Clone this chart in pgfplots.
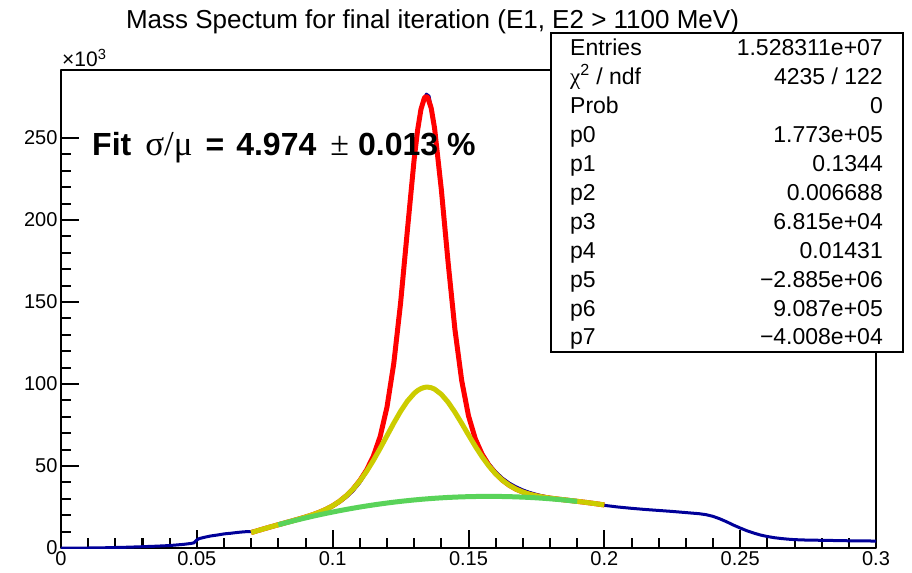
\documentclass[border=0pt]{standalone}
\usepackage{fontspec}
\setmainfont{Liberation Sans}
\newfontfamily\symfont{Liberation Serif}
\usepackage{pgfplots}
\pgfplotsset{compat=1.18}

\definecolor{histblue}{RGB}{0,0,153}
\definecolor{fitred}{RGB}{255,0,0}
\definecolor{fityellow}{RGB}{204,204,0}
\definecolor{fitgreen}{RGB}{89,211,89}

% histogram, counts in units of 10^3
\pgfplotstableread{
x y
0 0
0.005 0
0.01 0
0.015 0.1
0.02 0.3
0.025 0.5
0.03 0.8
0.035 1.1
0.04 1.5
0.045 2.2
0.048 2.8
0.049 3.2
0.05 5.0
0.051 5.8
0.053 6.6
0.055 7.3
0.0575 7.9
0.06 8.6
0.0625 9.0
0.065 9.5
0.0675 9.9
0.07 10.0
0.0725 10.9
0.075 12.0
0.0775 13.1
0.08 14.2
0.0825 15.3
0.085 16.4
0.0875 17.6
0.09 18.8
0.0925 20.1
0.095 21.6
0.0975 23.3
0.1 25.3
0.1025 27.8
0.105 30.9
0.1075 34.8
0.11 39.8
0.1125 46.3
0.115 55.0
0.1175 67.5
0.12 85.5
0.1225 112.3
0.125 149.5
0.1275 194.0
0.13 237.5
0.1325 268.5
0.1345 276.8
0.1355 275.5
0.1375 256.8
0.14 219.3
0.1425 174.8
0.145 134.0
0.1475 102.8
0.15 81.3
0.1525 67.3
0.155 58.0
0.1575 51.4
0.16 46.5
0.1625 42.6
0.165 39.6
0.1675 37.3
0.17 35.4
0.1725 33.9
0.175 32.7
0.1775 31.7
0.18 30.8
0.1825 30.1
0.185 29.5
0.1875 28.9
0.19 28.3
0.1925 27.8
0.195 27.2
0.1975 26.6
0.2 26.0
0.205 25.0
0.21 24.2
0.215 23.5
0.22 22.9
0.225 22.3
0.23 21.6
0.235 20.9
0.2375 20.3
0.24 19.3
0.2425 17.8
0.245 16.0
0.2475 14.0
0.25 12.2
0.2525 10.5
0.255 9.1
0.2575 7.9
0.26 7.0
0.2625 6.3
0.265 5.8
0.2675 5.4
0.27 5.1
0.275 4.8
0.28 4.7
0.285 4.55
0.29 4.4
0.295 4.3
0.3 4.25
}\histo

% total fit
\pgfplotstableread{
x y
0.07 9.395
0.0725 10.642
0.075 11.857
0.0775 13.041
0.08 14.202
0.0825 15.347
0.085 16.491
0.0875 17.660
0.09 18.888
0.0925 20.227
0.095 21.749
0.0975 23.545
0.1 25.731
0.1025 28.433
0.105 31.797
0.1075 35.967
0.11 41.124
0.1125 47.594
0.115 56.092
0.1175 68.076
0.12 85.962
0.1225 112.590
0.125 149.378
0.1275 193.682
0.13 237.093
0.13125 254.694
0.1325 267.513
0.13375 274.394
0.1344 275.386
0.135 274.692
0.13625 268.400
0.1375 256.134
0.14 218.591
0.1425 174.042
0.145 133.315
0.1475 102.046
0.15 80.603
0.1525 66.578
0.155 57.181
0.1575 50.449
0.16 45.330
0.1625 41.340
0.165 38.243
0.1675 35.880
0.17 34.110
0.1725 32.793
0.175 31.806
0.1775 31.050
0.18 30.437
0.1825 29.909
0.185 29.422
0.1875 28.945
0.19 28.460
0.1925 27.955
0.195 27.423
0.1975 26.859
0.2 26.262
}\fittotal

% wide gaussian + background
\pgfplotstableread{
x y
0.07 9.395
0.0725 10.642
0.075 11.857
0.0775 13.041
0.08 14.202
0.0825 15.347
0.085 16.491
0.0875 17.660
0.09 18.888
0.0925 20.227
0.095 21.749
0.0975 23.545
0.1 25.731
0.1025 28.431
0.105 31.786
0.1075 35.912
0.11 40.896
0.1125 46.762
0.115 53.451
0.1175 60.793
0.12 68.501
0.1225 76.173
0.125 83.351
0.1275 89.554
0.13 94.296
0.13125 96.007
0.1325 97.225
0.13375 97.929
0.1344 98.086
0.135 98.105
0.13625 97.756
0.1375 96.892
0.14 93.719
0.1425 88.888
0.145 82.822
0.1475 76.009
0.15 68.931
0.1525 62.025
0.155 55.638
0.1575 49.994
0.16 45.213
0.1625 41.314
0.165 38.238
0.1675 35.879
0.17 34.109
0.1725 32.793
0.175 31.806
0.1775 31.050
0.18 30.437
0.1825 29.909
0.185 29.422
0.1875 28.945
0.19 28.460
0.1925 27.955
0.195 27.423
0.1975 26.859
0.2 26.262
}\fitwide

% background pol2
\pgfplotstableread{
x y
0.08 14.152
0.0825 15.252
0.085 16.315
0.0875 17.343
0.09 18.335
0.0925 19.290
0.095 20.209
0.0975 21.093
0.1 21.940
0.1025 22.751
0.105 23.526
0.1075 24.265
0.11 24.969
0.1125 25.635
0.115 26.266
0.1175 26.861
0.12 27.420
0.1225 27.943
0.125 28.429
0.1275 28.880
0.13 29.295
0.1325 29.673
0.135 30.015
0.1375 30.322
0.14 30.592
0.1425 30.826
0.145 31.024
0.1475 31.186
0.15 31.313
0.1525 31.402
0.155 31.456
0.1575 31.474
0.16 31.456
0.1625 31.402
0.165 31.311
0.1675 31.185
0.17 31.023
0.1725 30.824
0.175 30.589
0.1775 30.319
0.18 30.012
0.1825 29.669
0.185 29.290
0.1875 28.875
0.19 28.425
}\fitbkg

\begin{document}
\begin{tikzpicture}
\begin{axis}[
  scale only axis,
  width=815bp, height=478bp,
  xmin=0, xmax=0.3,
  ymin=0, ymax=291.5,
  xtick={0,0.05,0.1,0.15,0.2,0.25,0.3},
  xticklabels={0,0.05,0.1,0.15,0.2,0.25,0.3},
  ytick={0,50,100,150,200,250},
  yticklabels={0,50,100,150,200,250},
  minor x tick num=4,
  minor y tick num=4,
  tick pos=left,
  tick align=inside,
  major tick length=18bp,
  minor tick length=9.5bp,
  axis line style={line width=2bp},
  tick style={black, line width=2bp},
  ticklabel style={font=\fontsize{20bp}{23bp}\selectfont},
  /pgf/number format/assume math mode=true,
  line join=round,
]
\addplot[histblue, line width=3bp, sharp plot] table {\histo};
\addplot[fitred, line width=5bp, sharp plot] table {\fittotal};
\addplot[fityellow, line width=5bp, sharp plot] table {\fitwide};
\addplot[fitgreen, line width=5bp, sharp plot] table {\fitbkg};
\end{axis}

% title
\node[anchor=base, font=\fontsize{26bp}{30bp}\selectfont]
  at ([xshift=371.5bp,yshift=41bp]current axis.north west)
  {Mass Spectum for final iteration (E1, E2 > 1100 MeV)};

% exponent of y axis
\node[anchor=base west, inner sep=0pt, font=\fontsize{21bp}{24bp}\selectfont]
  at ([xshift=1bp,yshift=3bp]current axis.north west)
  {×10\textsuperscript{3}};

% fit result
\node[anchor=base west, inner sep=0pt, font=\fontsize{32bp}{36bp}\selectfont]
  at ([xshift=31bp,yshift=-86bp]current axis.north west)
  {\textbf{Fit}\hspace{14bp}{\symfont\fontsize{35bp}{36bp}\selectfont σ/μ}\hspace{13bp}\textbf{=}\hspace{12bp}\textbf{4.974}\hspace{14bp}{\symfont\fontsize{34bp}{36bp}\selectfont ±}\hspace{9bp}\textbf{0.013}\hspace{9bp}\textbf{\%}};

% statistics box
\draw[line width=2bp, fill=white]
  ([xshift=490bp,yshift=37bp]current axis.north west) rectangle
  ([xshift=842bp,yshift=-282bp]current axis.north west);
\begin{scope}[every node/.style={inner sep=0pt, font=\fontsize{23bp}{27bp}\selectfont}]
\node[anchor=base west] at ([xshift=509bp,yshift=14bp]current axis.north west) {Entries};
\node[anchor=base east] at ([xshift=822bp,yshift=14bp]current axis.north west) {1.528311e+07};
\node[anchor=base west] at ([xshift=509bp,yshift=-14.9bp]current axis.north west) {{\symfont χ}\textsuperscript{2} / ndf};
\node[anchor=base east] at ([xshift=822bp,yshift=-14.9bp]current axis.north west) {4235 / 122};
\node[anchor=base west] at ([xshift=509bp,yshift=-43.8bp]current axis.north west) {Prob};
\node[anchor=base east] at ([xshift=822bp,yshift=-43.8bp]current axis.north west) {0};
\node[anchor=base west] at ([xshift=509bp,yshift=-72.7bp]current axis.north west) {p0};
\node[anchor=base east] at ([xshift=822bp,yshift=-72.7bp]current axis.north west) {1.773e+05};
\node[anchor=base west] at ([xshift=509bp,yshift=-101.6bp]current axis.north west) {p1};
\node[anchor=base east] at ([xshift=822bp,yshift=-101.6bp]current axis.north west) {0.1344};
\node[anchor=base west] at ([xshift=509bp,yshift=-130.5bp]current axis.north west) {p2};
\node[anchor=base east] at ([xshift=822bp,yshift=-130.5bp]current axis.north west) {0.006688};
\node[anchor=base west] at ([xshift=509bp,yshift=-159.4bp]current axis.north west) {p3};
\node[anchor=base east] at ([xshift=822bp,yshift=-159.4bp]current axis.north west) {6.815e+04};
\node[anchor=base west] at ([xshift=509bp,yshift=-188.3bp]current axis.north west) {p4};
\node[anchor=base east] at ([xshift=822bp,yshift=-188.3bp]current axis.north west) {0.01431};
\node[anchor=base west] at ([xshift=509bp,yshift=-217.2bp]current axis.north west) {p5};
\node[anchor=base east] at ([xshift=822bp,yshift=-217.2bp]current axis.north west) {−2.885e+06};
\node[anchor=base west] at ([xshift=509bp,yshift=-246.1bp]current axis.north west) {p6};
\node[anchor=base east] at ([xshift=822bp,yshift=-246.1bp]current axis.north west) {9.087e+05};
\node[anchor=base west] at ([xshift=509bp,yshift=-275bp]current axis.north west) {p7};
\node[anchor=base east] at ([xshift=822bp,yshift=-275bp]current axis.north west) {−4.008e+04};
\end{scope}

\pgfresetboundingbox
\path ([xshift=-61bp,yshift=-25bp]current axis.south west) rectangle
      ([xshift=36bp,yshift=70bp]current axis.north east);
\end{tikzpicture}
\end{document}
